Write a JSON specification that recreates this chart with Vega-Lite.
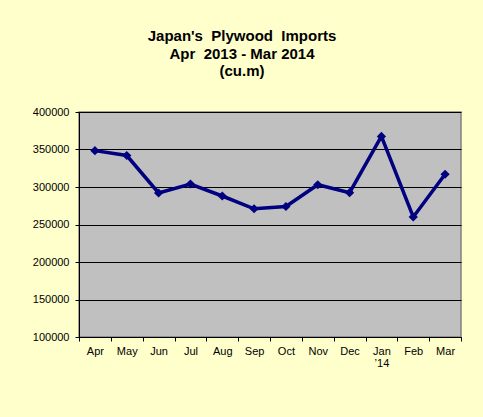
{
  "$schema": "https://vega.github.io/schema/vega-lite/v6.json",
  "width": 382,
  "height": 225,
  "autosize": {"type": "none"},
  "padding": {"left": 79, "top": 112, "right": 22, "bottom": 80},
  "background": "#FFFFCC",
  "title": {
    "text": ["Japan's\u00a0\u00a0Plywood\u00a0\u00a0Imports", "Apr\u00a0\u00a02013 - Mar 2014", "(cu.m)"],
    "font": "Liberation Sans",
    "fontSize": 15,
    "fontWeight": "bold",
    "color": "#000000",
    "lineHeight": 17.5,
    "anchor": "middle",
    "dx": -28,
    "offset": 27
  },
  "data": {
    "values": [
      {"month": "Apr", "value": 348500},
      {"month": "May", "value": 342000},
      {"month": "Jun", "value": 292000},
      {"month": "Jul", "value": 304000},
      {"month": "Aug", "value": 288000},
      {"month": "Sep", "value": 271000},
      {"month": "Oct", "value": 274000},
      {"month": "Nov", "value": 303000},
      {"month": "Dec", "value": 292500},
      {"month": "Jan", "value": 367500},
      {"month": "Feb", "value": 260000},
      {"month": "Mar", "value": 317000}
    ]
  },
  "config": {
    "view": {"fill": "#C0C0C0", "stroke": "#808080", "strokeWidth": 1.5},
    "axis": {
      "labelFont": "Liberation Sans",
      "labelFontSize": 11,
      "labelColor": "#000000",
      "domainColor": "#000000",
      "tickColor": "#000000",
      "tickSize": 4
    }
  },
  "encoding": {
    "x": {
      "field": "month",
      "type": "ordinal",
      "sort": null,
      "scale": {"type": "band", "paddingInner": 0, "paddingOuter": 0},
      "axis": {
        "title": null,
        "labelAngle": 0,
        "tickBand": "extent",
        "labelPadding": 4,
        "labelLineHeight": 12,
        "grid": false,
        "labelExpr": "datum.value == 'Jan' ? ['Jan', '\u2019' + '14'] : datum.value"
      }
    },
    "y": {
      "field": "value",
      "type": "quantitative",
      "scale": {"domain": [100000, 400000], "nice": false, "zero": false},
      "axis": {
        "title": null,
        "values": [100000, 150000, 200000, 250000, 300000, 350000, 400000],
        "format": "d",
        "grid": true,
        "gridColor": "#000000",
        "gridWidth": 1,
        "labelPadding": 6
      }
    }
  },
  "layer": [
    {
      "mark": {"type": "line", "color": "#000080", "strokeWidth": 3.5}
    },
    {
      "mark": {"type": "point", "shape": "diamond", "filled": true, "color": "#000080", "opacity": 1, "size": 85}
    }
  ]
}
